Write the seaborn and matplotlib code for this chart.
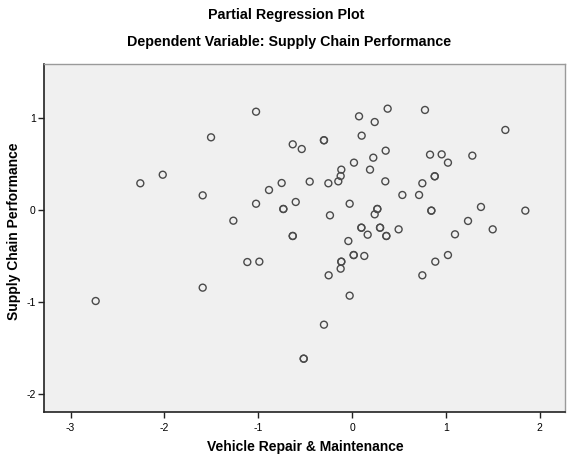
import matplotlib
matplotlib.use("Agg")
import matplotlib.pyplot as plt
import seaborn as sns
import pandas as pd

title_main = "Partial Regression Plot"
title_sub = "Dependent Variable: Supply Chain Performance"
x_label = "Vehicle Repair & Maintenance"
y_label = "Supply Chain Performance"
x_ticks = [-3, -2, -1, 0, 1, 2]
y_ticks = [-2, -1, 0, 1]

vehicle_repair = [
    -2.733, -2.257, -2.018, -1.592, -1.592, -1.503, -1.265, -1.116, -1.023, -1.023,
    -0.988, -0.885, -0.750, -0.732, -0.732, -0.632, -0.632, -0.632, -0.600, -0.536,
    -0.515, -0.515, -0.451, -0.299, -0.299, -0.299, -0.252, -0.249, -0.235, -0.146,
    -0.121, -0.121, -0.114, -0.114, -0.114, -0.039, -0.025, -0.025, 0.018, 0.018,
    0.021, 0.075, 0.100, 0.100, 0.103, 0.131, 0.167, 0.192, 0.227, 0.242,
    0.242, 0.270, 0.270, 0.299, 0.299, 0.355, 0.359, 0.366, 0.366, 0.380,
    0.497, 0.537, 0.715, 0.750, 0.750, 0.778, 0.832, 0.846, 0.846, 0.882,
    0.882, 0.888, 0.956, 1.023, 1.023, 1.098, 1.237, 1.283, 1.375, 1.500,
    1.635, 1.848,
]
supply_chain = [
    -0.988, 0.290, 0.383, 0.159, -0.843, 0.789, -0.116, -0.565, 1.067, 0.068,
    -0.561, 0.217, 0.293, 0.011, 0.011, 0.713, -0.282, -0.282, 0.087, 0.662,
    -1.614, -1.614, 0.308, 0.757, 0.757, -1.245, 0.290, -0.709, -0.058, 0.311,
    0.369, -0.637, 0.438, -0.561, -0.561, -0.337, 0.068, -0.930, -0.489, -0.489,
    0.514, 1.017, -0.192, -0.192, 0.807, -0.499, -0.268, 0.438, 0.568, 0.955,
    -0.047, 0.011, 0.011, -0.192, -0.192, 0.311, 0.644, -0.282, -0.282, 1.100,
    -0.210, 0.163, 0.163, 0.290, -0.709, 1.086, 0.601, -0.007, -0.007, 0.366,
    0.366, -0.561, 0.604, 0.514, -0.489, -0.264, -0.119, 0.590, 0.033, -0.210,
    0.869, -0.007,
]

df = pd.DataFrame({"x": vehicle_repair, "y": supply_chain})

sns.set_style("white")
plt.rcParams["font.family"] = ["Liberation Sans", "DejaVu Sans"]
plt.rcParams["text.color"] = "black"

fig = plt.figure(figsize=(5.71, 4.61), dpi=100)
ax = fig.add_axes([44 / 571, 1 - 412 / 461, (565 - 44) / 571, (412 - 64) / 461])
ax.set_facecolor("#f0f0f0")

sns.scatterplot(data=df, x="x", y="y", ax=ax, marker="o", s=25,
                facecolors="none", edgecolor="#4a4a4a", linewidth=1.0, legend=False)

ax.set_xlim(-3.284, 2.271)
ax.set_ylim(-2.193, 1.585)
ax.set_xticks(x_ticks)
ax.set_yticks(y_ticks)
ax.set_xticklabels([str(t) for t in x_ticks])
ax.set_yticklabels([str(t) for t in y_ticks])
ax.tick_params(axis="both", direction="out", length=4, width=1, color="#222222",
               labelsize=7.5, pad=2, labelcolor="black")
ax.tick_params(axis="x", bottom=True, pad=4)
ax.tick_params(axis="y", left=True)

for side in ["left", "bottom"]:
    ax.spines[side].set_color("#222222")
    ax.spines[side].set_linewidth(1.2)
for side in ["top", "right"]:
    ax.spines[side].set_visible(True)
    ax.spines[side].set_color("#9a9a9a")
    ax.spines[side].set_linewidth(1.0)

ax.set_xlabel("")
ax.set_ylabel("")
fig.text(305 / 571, 1 - 447 / 461, x_label, ha="center", va="center",
         fontsize=10, fontweight="bold", color="black")
fig.text(14 / 571, 1 - 231 / 461, y_label, ha="center", va="center",
         rotation=90, fontsize=10, fontweight="bold", color="black")

fig.text(286 / 571, 1 - 15 / 461, title_main, ha="center", va="center",
         fontsize=10.3, fontweight="bold", color="black")
fig.text(289 / 571, 1 - 42 / 461, title_sub, ha="center", va="center",
         fontsize=10.3, fontweight="bold", color="black")

fig.savefig("out.png", dpi=100, facecolor="white")
